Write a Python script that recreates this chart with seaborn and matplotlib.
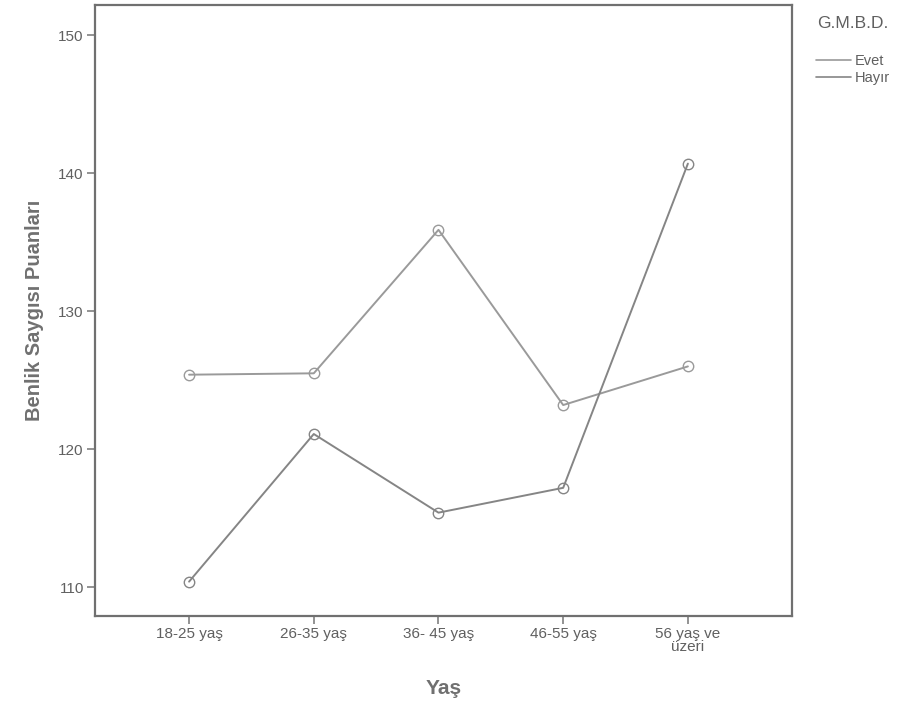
import matplotlib
matplotlib.use("Agg")
import matplotlib.pyplot as plt
import seaborn as sns
import pandas as pd
from matplotlib.lines import Line2D

categories = ["18-25 yaş", "26-35 yaş", "36- 45 yaş", "46-55 yaş", "56 yaş ve\nüzeri"]
evet = [125.4, 125.5, 135.9, 123.2, 126.0]
hayir = [110.4, 121.1, 115.4, 117.2, 140.7]
groups = ["Evet", "Hayır"]

df = pd.DataFrame({
    "Yaş": categories * 2,
    "Puan": evet + hayir,
    "G.M.B.D.": [groups[0]] * len(categories) + [groups[1]] * len(categories),
})

sns.set_style("white")
plt.rcParams["font.family"] = ["Liberation Sans", "DejaVu Sans"]

fig = plt.figure(figsize=(9.04, 7.09), dpi=100)
ax = fig.add_axes([0.105, 0.131, 0.771, 0.862])

palette = {"Evet": "#9a9a9a", "Hayır": "#858585"}
sns.lineplot(data=df, x="Yaş", y="Puan", hue="G.M.B.D.", palette=palette,
             sort=False, marker="o", markersize=7.5, markerfacecolor="none",
             markeredgewidth=1.0, linewidth=1.4, ax=ax, legend=False)
for ln in ax.lines:
    ln.set_markeredgecolor(ln.get_color())

ax.set_xlim(-0.755, 4.834)
ax.set_ylim(107.9, 152.2)
ax.set_yticks([110, 120, 130, 140, 150])
ax.set_xticks(range(len(categories)))
ax.set_xticklabels(categories, linespacing=0.85)

for sp in ax.spines.values():
    sp.set_color("#707070")
    sp.set_linewidth(1.6)

ax.tick_params(axis="both", direction="out", length=6, width=1.2, color="#808080",
               labelcolor="#606060", labelsize=11, bottom=True, left=True)
ax.tick_params(axis="x", pad=2)
ax.tick_params(axis="y", pad=2)

ax.set_xlabel("Yaş", fontsize=15, fontweight="bold", color="#707070", labelpad=18)
ax.set_ylabel("Benlik Saygısı Puanları", fontsize=14.5, fontweight="bold", color="#707070", labelpad=10)

handles = [Line2D([0], [0], color=palette[g], linewidth=1.2) for g in groups]
leg = fig.legend(handles, groups, title="G.M.B.D.", loc="upper left",
                 bbox_to_anchor=(0.896, 0.985), frameon=False, fontsize=10.5,
                 title_fontsize=12.5, handlelength=2.4, handletextpad=0.3,
                 labelspacing=0.2, borderaxespad=0)
leg._legend_box.sep = 16
for t in leg.get_texts():
    t.set_color("#606060")
leg.get_title().set_color("#606060")

fig.savefig("out.png", dpi=100, facecolor="white")
